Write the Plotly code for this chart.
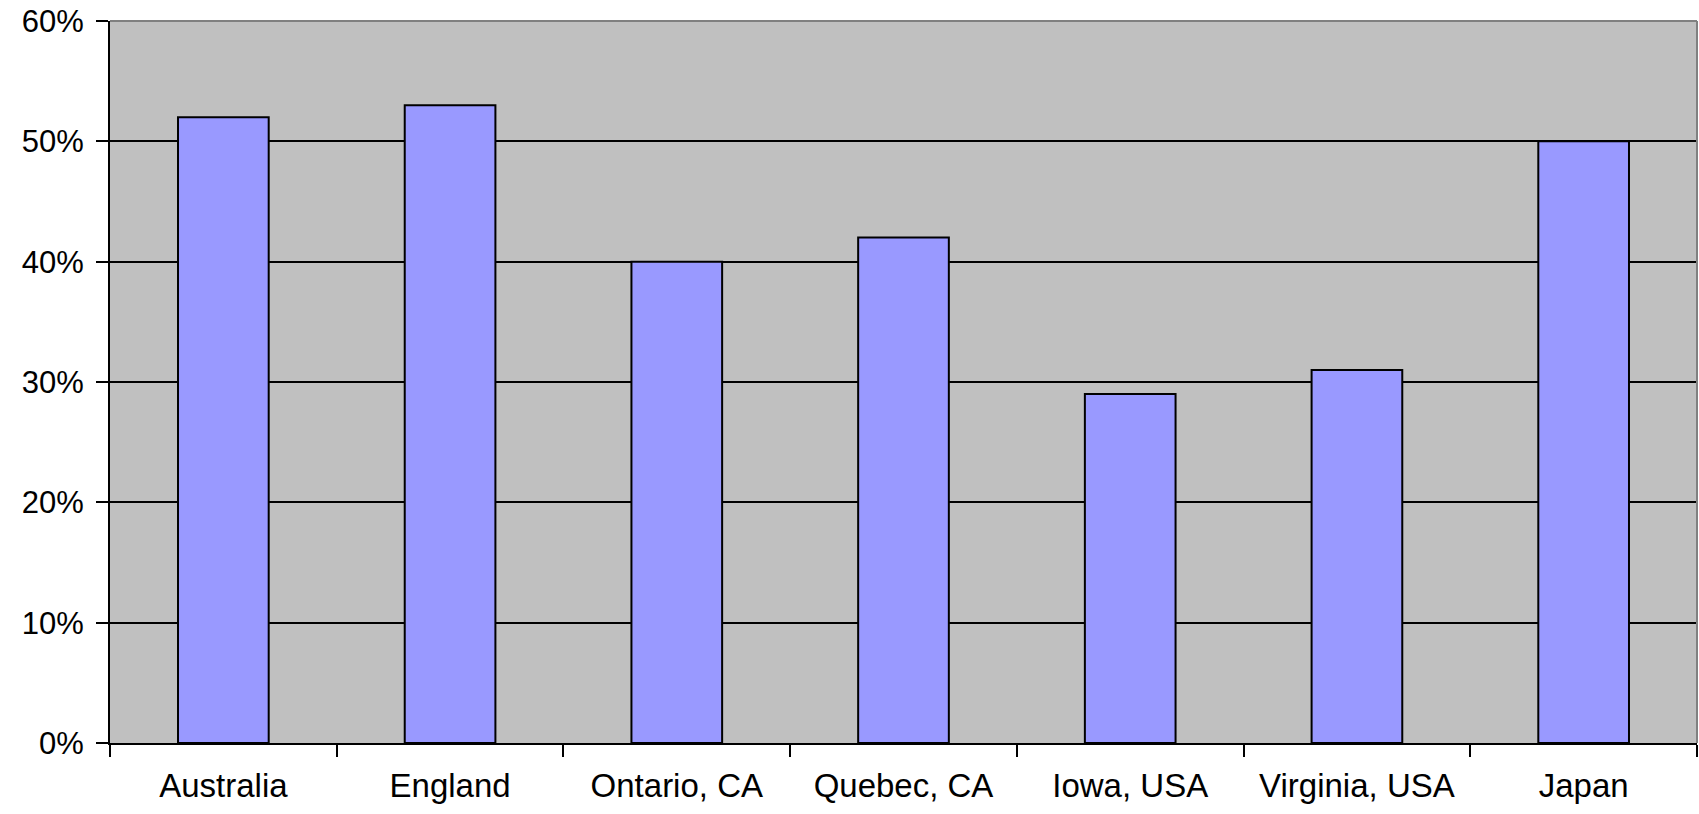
import plotly.graph_objects as go

categories = ["Australia", "England", "Ontario, CA", "Quebec, CA", "Iowa, USA", "Virginia, USA", "Japan"]
values = [0.52, 0.53, 0.40, 0.42, 0.29, 0.31, 0.50]
y_ticks = [0, 0.1, 0.2, 0.3, 0.4, 0.5, 0.6]
y_tick_labels = ["0%", "10%", "20%", "30%", "40%", "50%", "60%"]

fig = go.Figure(go.Bar(
    x=categories, y=values, width=0.4,
    marker=dict(color="#9999FF", line=dict(color="black", width=2)),
))

fig.update_layout(
    width=1699, height=814,
    margin=dict(l=110, r=2, t=21, b=71),
    paper_bgcolor="white", plot_bgcolor="#C0C0C0",
    font=dict(family="Liberation Sans, Arial, sans-serif", color="black"),
    showlegend=False,
    bargap=0.6,
)
fig.update_xaxes(
    type="category", showline=True, linecolor="black", linewidth=2,
    ticks="outside", ticklen=12, tickwidth=2, tickcolor="black",
    tickson="boundaries", showgrid=False, automargin=False,
    tickfont=dict(size=33), ticklabelstandoff=12,
)
fig.update_yaxes(
    range=[0, 0.6], tickvals=y_ticks, ticktext=y_tick_labels,
    showline=True, linecolor="black", linewidth=2,
    ticks="outside", ticklen=12, tickwidth=2, tickcolor="black",
    showgrid=True, gridcolor="black", gridwidth=2, zeroline=False,
    automargin=False,
    tickfont=dict(size=31), ticklabelstandoff=6,
)
fig.add_shape(type="line", xref="paper", yref="paper", x0=0, x1=1, y0=1, y1=1,
              line=dict(color="#808080", width=2), layer="above")
fig.add_shape(type="line", xref="paper", yref="paper", x0=1, x1=1, y0=0, y1=1,
              line=dict(color="#808080", width=2), layer="above")

fig.write_html("out.html", config={"displayModeBar": False},
               post_script="document.body.style.margin='0';document.body.style.overflow='hidden';")
